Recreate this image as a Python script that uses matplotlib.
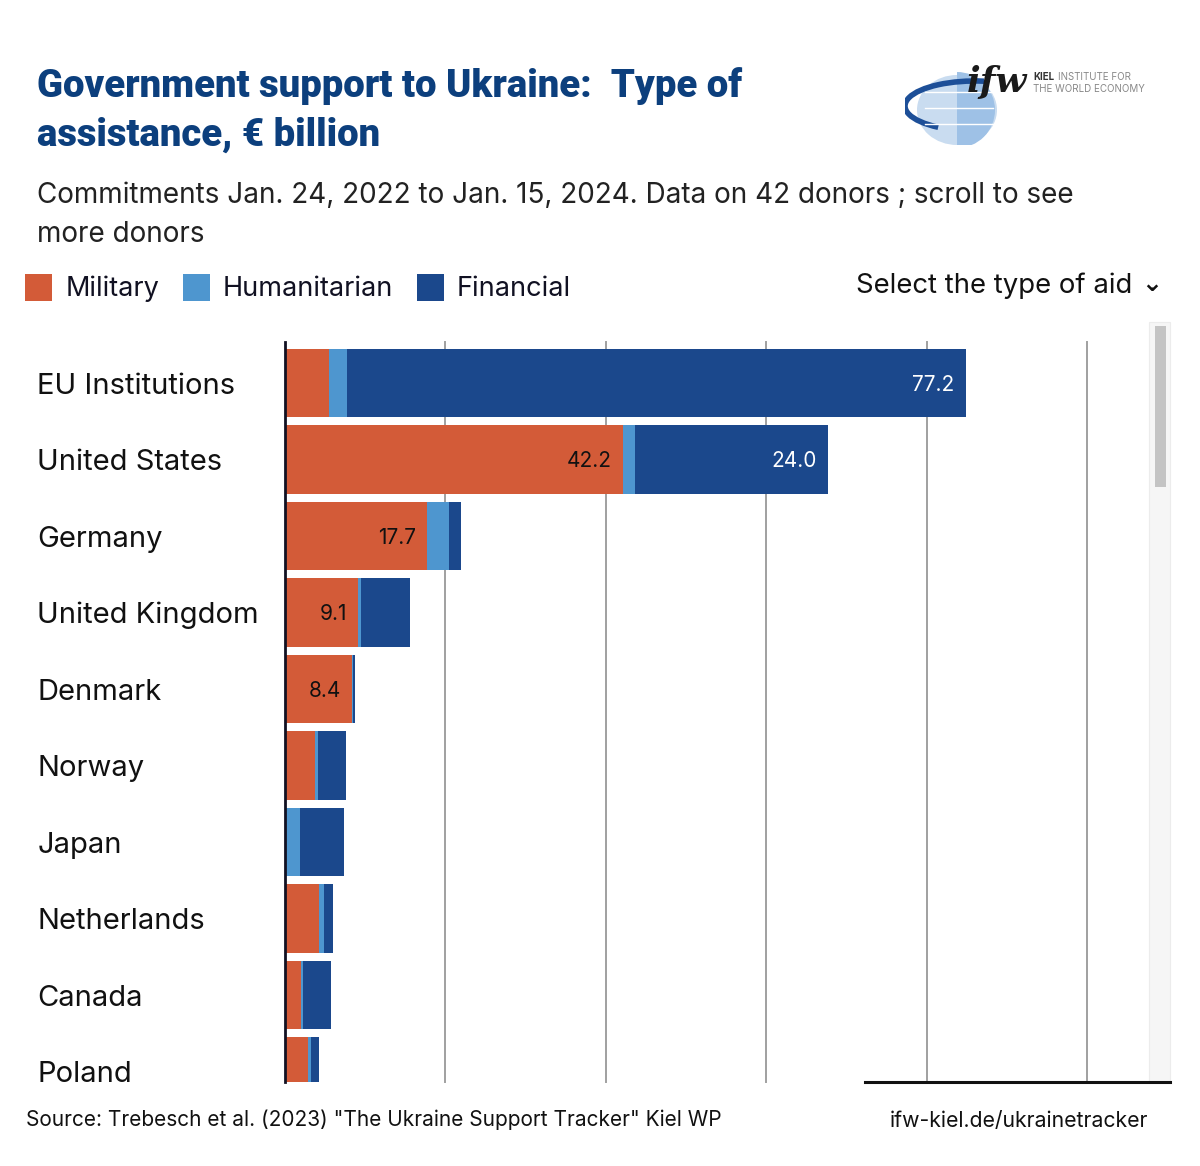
import matplotlib
matplotlib.use("Agg")
import matplotlib.pyplot as plt
from matplotlib.patches import Rectangle, Ellipse, Wedge, Arc
import numpy as np

countries = ["EU Institutions", "United States", "Germany", "United Kingdom", "Denmark",
             "Norway", "Japan", "Netherlands", "Canada", "Poland"]
military = [5.5, 42.2, 17.7, 9.1, 8.4, 3.7, 0.0, 4.2, 2.0, 2.9]
humanitarian = [2.2, 1.5, 2.8, 0.4, 0.1, 0.4, 1.9, 0.7, 0.3, 0.4]
financial = [77.2, 24.0, 1.5, 6.1, 0.2, 3.5, 5.5, 1.1, 3.4, 0.9]
mil_labels = [None, "42.2", "17.7", "9.1", "8.4", None, None, None, None, None]
fin_labels = ["77.2", "24.0", None, None, None, None, None, None, None, None]
series_names = ["Military", "Humanitarian", "Financial"]

C_MIL = "#d35b38"
C_HUM = "#4e96cf"
C_FIN = "#1b488c"
TITLE_C = "#0c3f7d"

W, H = 1200, 1166
fig = plt.figure(figsize=(W / 100, H / 100), dpi=100)

def fx(px):
    return px / W

def fy(py):
    return 1 - py / H

# Title and subtitle
fig.text(fx(37), fy(86), "Government support to Ukraine:  Type of", fontsize=27.5, fontweight="black",
         color=TITLE_C, family="Roboto", va="center", ha="left")
fig.text(fx(37), fy(135), "assistance, € billion", fontsize=27.5, fontweight="black",
         color=TITLE_C, family="Roboto", va="center", ha="left")
fig.text(fx(37), fy(196), "Commitments Jan. 24, 2022 to Jan. 15, 2024. Data on 42 donors ; scroll to see",
         fontsize=20.1, color="#222222", family="Inter", va="center", ha="left")
fig.text(fx(37), fy(234), "more donors", fontsize=20.1, color="#222222", family="Inter", va="center", ha="left")

# Legend
leg_items = [(25, series_names[0], C_MIL, 66), (183, series_names[1], C_HUM, 223), (417, series_names[2], C_FIN, 457)]
for sx, name, col, tx in leg_items:
    fig.patches.append(Rectangle((fx(sx), fy(301)), 27 / W, 27 / H, transform=fig.transFigure,
                                 facecolor=col, edgecolor="none"))
    fig.text(fx(tx), fy(289), name, fontsize=19.5, color="#111122", family="Inter", va="center", ha="left")

fig.text(fx(856), fy(286), "Select the type of aid", fontsize=19.8, color="#111111", family="Inter",
         va="center", ha="left")
fig.text(fx(1152), fy(284), "⌄", fontsize=18, color="#111111", family="DejaVu Sans",
         va="center", ha="center", fontweight="bold")

# Main axes
x0, x1 = 285, 1087
ytop, ybot = 342, 1082
ax = fig.add_axes([fx(x0), fy(ybot), (x1 - x0) / W, (ybot - ytop) / H])
ax.set_xlim(0, 100)
row0, step = 383, 76.5
ax.set_ylim((ybot - row0) / step, (ytop - row0) / step)

for gx in [20, 40, 60, 80, 100]:
    ax.axvline(gx, color="#a0a0a0", lw=1.4, zorder=0, clip_on=False)

y = np.arange(len(countries))
mil = np.array(military)
hum = np.array(humanitarian)
fin = np.array(financial)
bh = 0.89
ax.barh(y, mil, height=bh, color=C_MIL, zorder=2)
ax.barh(y, hum, left=mil, height=bh, color=C_HUM, zorder=2)
ax.barh(y, fin, left=mil + hum, height=bh, color=C_FIN, zorder=2)

pad = 1.4
for i in range(len(countries)):
    if mil_labels[i]:
        ax.text(mil[i] - pad, y[i] + 0.02, mil_labels[i], ha="right", va="center", fontsize=15,
                color="#111111", family="Inter", zorder=3)
    if fin_labels[i]:
        ax.text(mil[i] + hum[i] + fin[i] - pad, y[i] + 0.02, fin_labels[i], ha="right", va="center",
                fontsize=15, color="white", family="Inter", zorder=3)

ax.set_yticks(y)
ax.set_yticklabels([])
for i, c in enumerate(countries):
    ax.text(-30.9, y[i] + 0.04, c, ha="left", va="center", fontsize=21, color="#111111", family="Inter",
            clip_on=False)
ax.set_xticks([])
ax.tick_params(left=False)
for s in ["top", "right", "bottom"]:
    ax.spines[s].set_visible(False)
ax.spines["left"].set_color("#111122")
ax.spines["left"].set_linewidth(2)
ax.patch.set_alpha(0)

# bottom black line and scrollbar
fig.add_artist(plt.Line2D([fx(865), fx(1170)], [fy(1082), fy(1082)], color="#111111", lw=2.2,
                          transform=fig.transFigure))
fig.patches.append(Rectangle((fx(1149), fy(1082)), 21 / W, (1082 - 322) / H, transform=fig.transFigure,
                             facecolor="#f6f6f6", edgecolor="#ececec", lw=0.8))
fig.patches.append(Rectangle((fx(1155), fy(487)), 11 / W, (487 - 326) / H, transform=fig.transFigure,
                             facecolor="#c4c4c4", edgecolor="none"))

# Footer
fig.text(fx(26), fy(1120), "Source: Trebesch et al. (2023) \"The Ukraine Support Tracker\" Kiel WP",
         fontsize=15, color="#111111", family="Inter", va="center", ha="left")
fig.text(fx(1148), fy(1121), "ifw-kiel.de/ukrainetracker", fontsize=15.3, color="#111111",
         family="Inter", va="center", ha="right")

# Logo approximation
lax = fig.add_axes([fx(905), fy(145), 250 / W, 95 / H])
lax.set_xlim(0, 250)
lax.set_ylim(95, 0)
lax.axis("off")
lax.add_patch(Ellipse((52, 60), 80, 70, facecolor="#c9dcf0", edgecolor="none"))
lax.add_patch(Wedge((52, 60), 38, 270, 90, facecolor="#9ec1e6", edgecolor="none"))
for yy in [42, 58, 74]:
    lax.plot([20, 88], [yy, yy], color="white", lw=1)
lax.add_patch(Arc((70, 56), 140, 50, theta1=150, theta2=290, color="#1d4f98", lw=4))
lax.text(62, 32, "ifw", fontsize=26, fontweight="bold", fontstyle="italic", color="#1a1a1a",
         family="DejaVu Serif", va="center", ha="left")
lax.text(128, 27, "KIEL", fontsize=7, fontweight="bold", color="#333333", family="Inter",
         va="center", ha="left")
lax.text(153, 27, "INSTITUTE FOR", fontsize=7, color="#888888", family="Inter", va="center", ha="left")
lax.text(128, 39, "THE WORLD ECONOMY", fontsize=7, color="#888888", family="Inter", va="center", ha="left")

fig.savefig("out.png", dpi=100, facecolor="white")
